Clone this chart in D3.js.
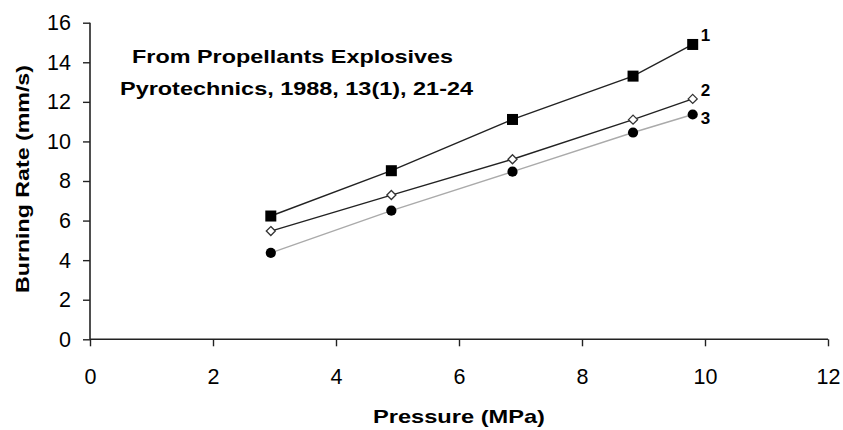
<!DOCTYPE html>
<html>
<head>
<meta charset="utf-8">
<script src="https://cdn.jsdelivr.net/npm/d3@7"></script>
<style>
  body { margin: 0; background: #fff; }
  text { font-family: "Liberation Sans", Arial, sans-serif; fill: #000; }
</style>
</head>
<body>
<script>
// datos
var pressure = [2.94, 4.9, 6.87, 8.83, 9.8];
var rate1 = [6.23, 8.52, 11.11, 13.3, 14.9];
var rate2 = [5.47, 7.29, 9.1, 11.1, 12.15];
var rate3 = [4.37, 6.5, 8.47, 10.45, 11.36];
var seriesNames = ["1", "2", "3"];
var xTicks = [0, 2, 4, 6, 8, 10, 12];
var yTicks = [0, 2, 4, 6, 8, 10, 12, 14, 16];

var w = 843, h = 430;
var margin = { left: 90, right: 15, top: 22.7, bottom: 91 };

var svg = d3.select("body").append("svg").attr("width", w).attr("height", h);

var x = d3.scaleLinear().domain([0, 12]).range([margin.left, 828]);
var y = d3.scaleLinear().domain([0, 16]).range([339.3, margin.top]);

// ejes
var xAxis = svg.append("g").attr("transform", "translate(0," + y(0) + ")")
  .call(d3.axisBottom(x).tickValues(xTicks).tickSize(7).tickPadding(22).tickFormat(d3.format("d")));
var yAxis = svg.append("g").attr("transform", "translate(" + x(0) + ",0)")
  .call(d3.axisLeft(y).tickValues(yTicks).tickSize(7).tickPadding(12).tickFormat(d3.format("d")));

[xAxis, yAxis].forEach(function (a) {
  a.select(".domain").attr("stroke", "#222").attr("stroke-width", 1.6);
  a.selectAll(".tick line").attr("stroke", "#222").attr("stroke-width", 1.4);
  a.selectAll(".tick text").style("font-size", "21.5px").attr("fill", "#000");
});
xAxis.select(".domain").attr("d", "M" + x(0) + ",0H" + x(12));
yAxis.select(".domain").attr("d", "M0," + y(16) + "V" + y(0));

// textos en negrita, estirados como en el original
function boldText(sel, txt, len) {
  return sel.append("text").attr("text-anchor", "middle")
    .style("font-size", "19px").style("font-weight", "bold")
    .attr("textLength", len).attr("lengthAdjust", "spacingAndGlyphs").text(txt);
}

// titulos de ejes
boldText(svg, "Pressure (MPa)", 172).attr("x", 459).attr("y", 423);
boldText(svg, "Burning Rate (mm/s)", 228).attr("transform", "translate(28.5,179) rotate(-90)");

// nota
boldText(svg, "From Propellants Explosives", 321).attr("x", 292.5).attr("y", 63);
boldText(svg, "Pyrotechnics, 1988, 13(1), 21-24", 353).attr("x", 296.5).attr("y", 95);

var series = [
  { name: seriesNames[0], values: rate1, stroke: "#222", shape: "square", dy: -3 },
  { name: seriesNames[1], values: rate2, stroke: "#222", shape: "diamond", dy: -3 },
  { name: seriesNames[2], values: rate3, stroke: "#aaa", shape: "circle", dy: 9 }
];

var line = d3.line().x(function (d) { return x(d[0]); }).y(function (d) { return y(d[1]); });

series.forEach(function (s) {
  var pts = pressure.map(function (p, i) { return [p, s.values[i]]; });
  svg.append("path").datum(pts).attr("d", line).attr("fill", "none")
    .attr("stroke", s.stroke).attr("stroke-width", 1.4);

  var g = svg.append("g");
  if (s.shape === "square") {
    g.selectAll("rect").data(pts).enter().append("rect")
      .attr("x", function (d) { return x(d[0]) - 5.5; })
      .attr("y", function (d) { return y(d[1]) - 5.5; })
      .attr("width", 11).attr("height", 11).attr("fill", "#000");
  } else if (s.shape === "diamond") {
    g.selectAll("path").data(pts).enter().append("path")
      .attr("d", d3.symbol().type(d3.symbolDiamond2).size(52))
      .attr("transform", function (d) { return "translate(" + x(d[0]) + "," + y(d[1]) + ")"; })
      .attr("fill", "#fff").attr("stroke", "#333").attr("stroke-width", 1.3);
  } else {
    g.selectAll("circle").data(pts).enter().append("circle")
      .attr("cx", function (d) { return x(d[0]); })
      .attr("cy", function (d) { return y(d[1]); })
      .attr("r", 5.1).attr("fill", "#000");
  }

  var last = pts[pts.length - 1];
  svg.append("text").attr("x", x(last[0]) + 8).attr("y", y(last[1]) + s.dy)
    .style("font-size", "17px").style("font-weight", "bold").text(s.name);
});
</script>
</body>
</html>
